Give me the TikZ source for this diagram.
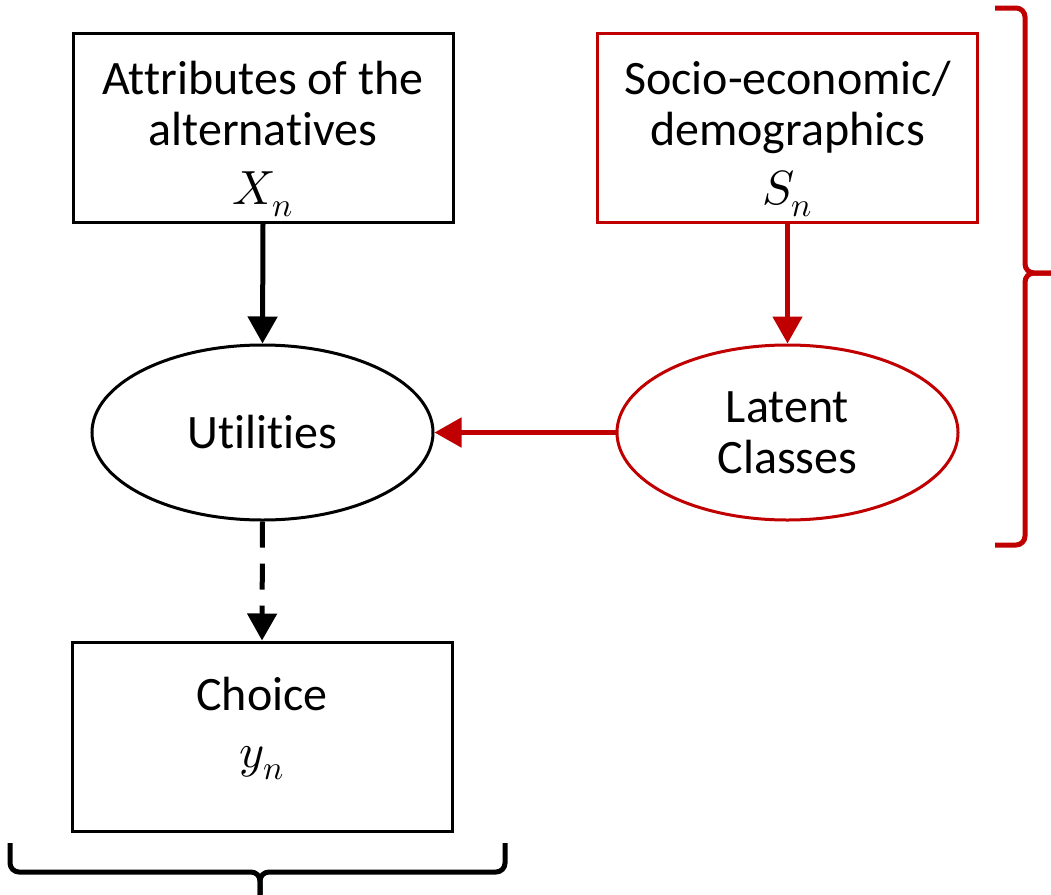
\documentclass[tikz,border=0pt]{standalone}
\usepackage{fontspec}
\usepackage{unicode-math}
\setmainfont{Carlito}[Ligatures=NoCommon]
\setmathfont{Latin Modern Math}
\usetikzlibrary{shapes.geometric,arrows.meta}
\definecolor{darkred}{HTML}{C00000}
\begin{document}
\begin{tikzpicture}[x=1pt,y=-1pt,
  every node/.style={font=\fontsize{48}{51}\selectfont, align=center, text=black},
  boxnode/.style={draw, rectangle, line width=3pt, minimum width=380pt, minimum height=189pt, inner sep=0pt},
  ovalnode/.style={draw, ellipse, line width=3pt, minimum width=341pt, minimum height=175pt, inner sep=0pt},
  link/.style={line width=5pt, -{Triangle[length=27pt,width=29pt]}},
  bracepath/.style={line width=5pt, rounded corners=9pt, line cap=butt}
]
\useasboundingbox (0,0) rectangle (1051,894);

% boxes and ovals (trailing negative skips lower the text inside the boxes)
\node[boxnode] (attr) at (263,127.5) {Attributes of the\\alternatives\\[8pt]$X_n$\\[-62pt]};
\node[boxnode, draw=darkred] (socio) at (787.5,127.5) {Socio-economic/\\demographics\\[8pt]$S_n$\\[-62pt]};
\node[ovalnode] (util) at (262.5,432.5) {Utilities};
\node[ovalnode, draw=darkred] (latent) at (787.5,432.5) {Latent\\Classes};
\node[boxnode] (choice) at (262,736.5) {Choice\\[6pt]$y_n$\\[-22pt]};

% connectors
\draw[link] (attr.south) -- (util.north);
\draw[link, darkred] (socio.south) -- (latent.north);
\draw[link, darkred] (latent.west) -- (util.east);
\draw[link, dash pattern=on 26pt off 16pt] (util.south) -- (choice.north);

% right brace
\draw[bracepath, darkred] (995,8) -- (1025,8) -- (1025,273) -- (1060,273);
\draw[bracepath, darkred] (1060,273) -- (1025,273) -- (1025,545) -- (995,545);

% bottom brace
\draw[bracepath] (10,843) -- (10,872) -- (260,872) -- (260,905);
\draw[bracepath] (505,843) -- (505,872) -- (260,872) -- (260,905);
\end{tikzpicture}
\end{document}
